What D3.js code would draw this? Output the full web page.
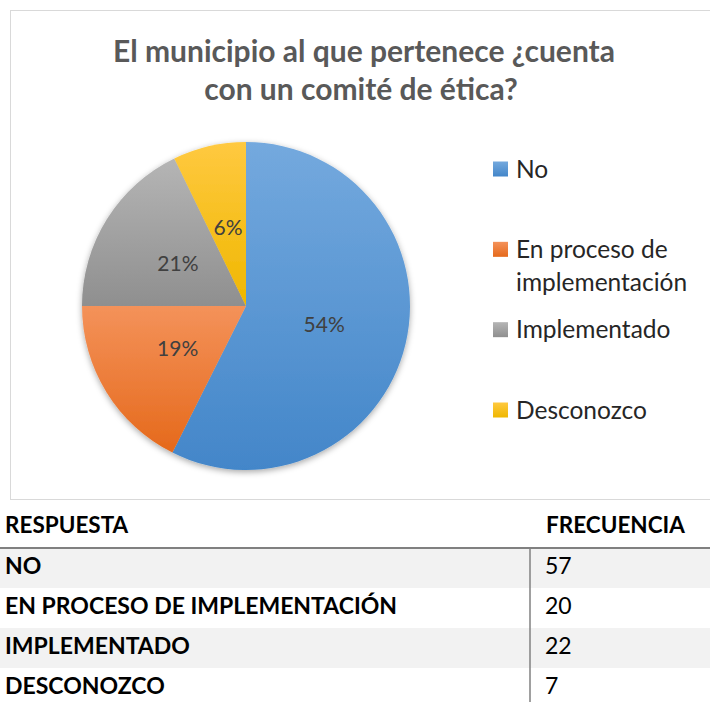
<!DOCTYPE html>
<html>
<head>
<meta charset="utf-8">
<script src="https://cdn.jsdelivr.net/npm/d3@7"></script>
<style>
  body { margin: 0; background: #fff; }
  svg { display: block; font-family: Lato, "Open Sans", sans-serif; }
</style>
</head>
<body>
<div id="chart"></div>
<script>
// legend / slice categories
let categories = ['No', 'En proceso de implementación', 'Implementado', 'Desconozco'];
// slice sizes as drawn in the picture (percent of the circle)
let sliceShares = [57.4, 17.6, 17.8, 7.2];
let pctLabels = ['54%', '19%', '21%', '6%'];
let colorsTop = ['#74a9de', '#f4925a', '#b5b5b5', '#ffc940'];
let colorsBottom = ['#4386c9', '#e5691b', '#8f8f8f', '#efb700'];

// table under the chart
let tableRows = ['NO', 'EN PROCESO DE IMPLEMENTACIÓN', 'IMPLEMENTADO', 'DESCONOZCO'];
let frequencies = [57, 20, 22, 7];

let width = 710, height = 702;
let cx = 246, cy = 306, radius = 164;

let svg = d3.select('#chart').append('svg')
  .attr('width', width)
  .attr('height', height);

let defs = svg.append('defs');

let shadow = defs.append('filter').attr('id', 'shadow')
  .attr('x', '-10%').attr('y', '-10%').attr('width', '120%').attr('height', '120%');
shadow.append('feDropShadow')
  .attr('dx', 0).attr('dy', 2)
  .attr('stdDeviation', 3)
  .attr('flood-color', '#000')
  .attr('flood-opacity', 0.35);

categories.forEach(function(c, i) {
  let g = defs.append('linearGradient').attr('id', 'grad' + i)
    .attr('x1', 0).attr('y1', 0).attr('x2', 0).attr('y2', 1);
  g.append('stop').attr('offset', '0%').attr('stop-color', colorsTop[i]);
  g.append('stop').attr('offset', '100%').attr('stop-color', colorsBottom[i]);
});

// chart frame
svg.append('rect')
  .attr('x', 10.5).attr('y', 10.5)
  .attr('width', 720).attr('height', 489)
  .style('fill', '#fff')
  .style('stroke', '#d9d9d9');

// title
let title = svg.append('text')
  .attr('text-anchor', 'middle')
  .style('font-size', '30px')
  .style('font-weight', 'bold')
  .style('fill', '#595959');
title.append('tspan').attr('x', 364).attr('y', 62).text('El municipio al que pertenece ¿cuenta');
title.append('tspan').attr('x', 361).attr('y', 100).text('con un comité de ética?');

// pie
let pie = d3.pie().sort(null).value(function(d) { return d; });
let arcs = pie(sliceShares);
let arc = d3.arc().innerRadius(0).outerRadius(radius);
let labelArc = d3.arc().innerRadius(radius * 0.49).outerRadius(radius * 0.49);

let pieG = svg.append('g')
  .attr('transform', 'translate(' + cx + ',' + cy + ')');

pieG.append('g')
  .attr('filter', 'url(#shadow)')
  .selectAll('path')
  .data(arcs)
  .enter().append('path')
  .attr('d', arc)
  .style('fill', function(d, i) { return 'url(#grad' + i + ')'; });

pieG.selectAll('.lbl')
  .data(arcs)
  .enter().append('text')
  .attr('class', 'lbl')
  .attr('transform', function(d) { return 'translate(' + labelArc.centroid(d) + ')'; })
  .attr('text-anchor', 'middle')
  .attr('dy', '0.35em')
  .style('font-size', '21px')
  .style('fill', '#404040')
  .text(function(d, i) { return pctLabels[i]; });

// legend
let legendY = d3.scalePoint().domain(categories).range([169, 410]);
let legend = svg.selectAll('.legend')
  .data(categories)
  .enter().append('g')
  .attr('class', 'legend')
  .attr('transform', function(d) { return 'translate(493,' + legendY(d) + ')'; });

legend.append('rect')
  .attr('x', 0).attr('y', -7.5)
  .attr('width', 15).attr('height', 15)
  .style('fill', function(d, i) { return 'url(#grad' + i + ')'; });

legend.append('text')
  .attr('x', 23)
  .style('font-size', '24.5px')
  .style('fill', '#262626')
  .each(function(d) {
    let t = d3.select(this);
    let lines = d === 'En proceso de implementación' ? ['En proceso de', 'implementación'] : [d];
    lines.forEach(function(l, j) {
      t.append('tspan').attr('x', 23).attr('y', j * 33).attr('dy', '0.35em').text(l);
    });
  });

// table
let tableTop = 548;
let rowY = d3.scaleBand().domain(tableRows).range([tableTop, tableTop + 40 * tableRows.length]);

svg.append('text')
  .attr('x', 5).attr('y', 525).attr('dy', '0.35em')
  .style('font-size', '22.5px').style('font-weight', 'bold').style('fill', '#000')
  .text('RESPUESTA');
svg.append('text')
  .attr('x', 546).attr('y', 525).attr('dy', '0.35em')
  .style('font-size', '22.5px').style('font-weight', 'bold').style('fill', '#000')
  .text('FRECUENCIA');

let rows = svg.selectAll('.row')
  .data(tableRows)
  .enter().append('g')
  .attr('class', 'row')
  .attr('transform', function(d) { return 'translate(0,' + rowY(d) + ')'; });

rows.append('rect')
  .attr('x', 0).attr('y', 0)
  .attr('width', width).attr('height', rowY.bandwidth())
  .style('fill', function(d, i) { return i % 2 === 0 ? '#f2f2f2' : '#fff'; });

rows.append('text')
  .attr('x', 5).attr('y', 18).attr('dy', '0.35em')
  .style('font-size', '23px').style('font-weight', 'bold').style('fill', '#000')
  .text(function(d) { return d; });

rows.append('text')
  .attr('x', 545).attr('y', 18).attr('dy', '0.35em')
  .style('font-size', '23px').style('fill', '#000')
  .text(function(d, i) { return frequencies[i]; });

svg.append('line')
  .attr('x1', 0).attr('x2', width)
  .attr('y1', tableTop).attr('y2', tableTop)
  .style('stroke', '#808080').style('stroke-width', 2);

svg.append('line')
  .attr('x1', 530).attr('x2', 530)
  .attr('y1', tableTop).attr('y2', height)
  .style('stroke', '#808080').style('stroke-width', 1.5);
</script>
</body>
</html>
